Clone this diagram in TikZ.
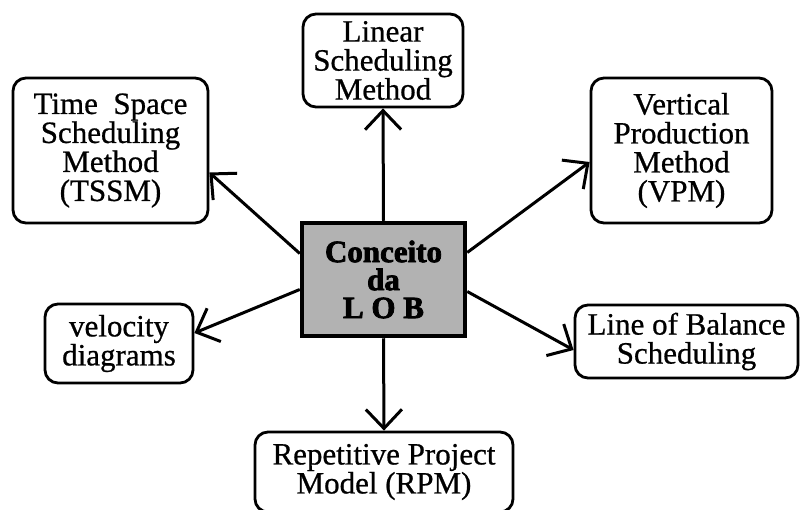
\documentclass[tikz,border=0pt]{standalone}
\usepackage{fontspec}
\setmainfont[FakeBold=2.5]{Liberation Serif}
\newfontfamily\scanfont[FakeBold=0.7]{Liberation Serif}
\usetikzlibrary{arrows.meta}
\begin{document}
\begin{tikzpicture}[x=1pt,y=-1pt,
  box/.style={draw,line width=2.8pt,rounded corners=13pt,align=center,
    font=\scanfont\fontsize{31}{29}\selectfont,inner sep=0pt},
  hub/.style={draw,line width=4.5pt,fill=black!30,align=center,
    font=\fontsize{31}{28}\bfseries\selectfont,inner sep=0pt,
    minimum width=163pt,minimum height=113pt},
  arr/.style={line width=3pt,-{Straight Barb[length=19pt,width=36pt]}}]
\useasboundingbox (0,0) rectangle (801,509);
\clip (0,0) rectangle (801,509);

\node[hub] (c) at (383.5,279.5) {Conceito\\da\\L O B};

\node[box,minimum width=160pt,minimum height=93pt] (lsm) at (383,60.5)
  {Linear\\Scheduling\\Method};
\node[box,minimum width=195pt,minimum height=145pt] (tssm) at (110.5,150.5)
  {Time\ \ Space\\Scheduling\\Method\\(TSSM)};
\node[box,minimum width=181pt,minimum height=145pt] (vpm) at (681.5,150.5)
  {Vertical\\Production\\Method\\(VPM)};
\node[box,minimum width=148pt,minimum height=79pt] (vel) at (119,343.5)
  {velocity\\diagrams};
\node[box,minimum width=223pt,minimum height=73pt] (lob) at (686.5,341.5)
  {Line of Balance\\Scheduling};
\node[box,minimum width=258pt,minimum height=80pt] (rpm) at (384,472)
  {Repetitive Project\\Model (RPM)};

\draw[arr] (c.north) -- (lsm.south);
\draw[arr] (c.south) -- (rpm.north);
\draw[arr] ([yshift=26pt]c.west) -- ([yshift=-22pt]tssm.east);
\draw[arr] ([yshift=-10pt]c.west) -- ([yshift=10.5pt]vel.east);
\draw[arr] ([yshift=27pt]c.east) -- ([yshift=-11.5pt]vpm.west);
\draw[arr] ([yshift=-12pt]c.east) -- ([yshift=-8.5pt]lob.west);
\end{tikzpicture}
\end{document}
